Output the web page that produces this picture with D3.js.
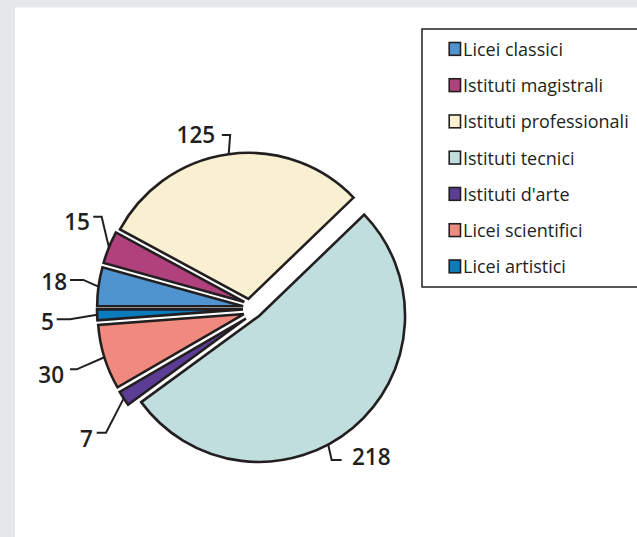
<!DOCTYPE html>
<html><head><meta charset="utf-8">
<script src="https://cdn.jsdelivr.net/npm/d3@7"></script>
<style>body{margin:0;background:#e6e7e8}svg{display:block}</style>
</head><body>
<svg id="chart" width="637" height="537"></svg>
<script>
// ---- data ----
const categories = ["Licei classici", "Istituti magistrali", "Istituti professionali", "Istituti tecnici", "Istituti d'arte", "Licei scientifici", "Licei artistici"];
const values = [18, 15, 125, 218, 7, 30, 5];
const valueLabels = ["18", "15", "125", "218", "7", "30", "5"];
const colors = ["#4f93cf", "#b0417c", "#f9f0d2", "#c0dedd", "#5c3d96", "#f08a7f", "#0a7bbd"];

// ---- layout ----
const W = 637, H = 537;
const ink = "#231f20";
const pieCenter = [261, 308.7];
const radius = 146;
const explodeDist = [18, 18, 16, 7.5, 18, 18, 18];
const explodeDirDeg = [null, null, 308, 195, null, null, null];
const anchorShift = [0, 0, 0, 11.8, 0, 0, 0];
const elbowShift = [1.6, 8.9, 1.4, 13.3, -6.05, -1.1, -1.1];
const elbowRadius = [162, 166.2, 164.9, 161.3, 180.6, 176, 173.3];
const tailLen = [13.3, 8.4, 8.3, 10, 9.3, 6.7, 13.3];
const textGap = [3, 3.3, 6.7, 10.3, 3.7, 6, 2.7];
const textDy = [10, 13.3, 8, 5, 14.3, 13.7, 10.7];

const svg = d3.select("#chart");
svg.append("rect").attr("width", W).attr("height", H).attr("fill", "#e6e7e8");
svg.append("rect").attr("x", 15).attr("y", 7.5).attr("width", W - 15).attr("height", H - 7.5).attr("fill", "#ffffff");

const pie = d3.pie().sort(null).value(d => d)
  .startAngle(-Math.PI / 2).endAngle(3 * Math.PI / 2);
const arcs = pie(values);
const arc = d3.arc().innerRadius(0).outerRadius(radius);
const rad = d => d * Math.PI / 180;

const slices = svg.append("g").attr("transform", `translate(${pieCenter[0]},${pieCenter[1]})`)
  .selectAll("g").data(arcs).join("g")
  .attr("transform", (d, i) => {
    const mid = (d.startAngle + d.endAngle) / 2;
    const dir = explodeDirDeg[i] == null ? mid : rad(explodeDirDeg[i]);
    return `translate(${explodeDist[i] * Math.sin(dir)},${-explodeDist[i] * Math.cos(dir)})`;
  });

slices.append("path")
  .attr("d", arc)
  .attr("fill", (d, i) => colors[i])
  .attr("stroke", ink).attr("stroke-width", 2.6).attr("stroke-linejoin", "miter");

slices.each(function(d, i) {
  const g = d3.select(this);
  const mid = (d.startAngle + d.endAngle) / 2;
  const a = mid + rad(anchorShift[i]);
  const e = mid + rad(elbowShift[i]);
  const ax = radius * Math.sin(a), ay = -radius * Math.cos(a);
  const ex = elbowRadius[i] * Math.sin(e), ey = -elbowRadius[i] * Math.cos(e);
  const side = Math.sin(e) < 0 ? -1 : 1;
  const tx = ex + side * tailLen[i];
  g.append("path")
    .attr("d", d3.line()([[ax, ay], [ex, ey], [tx, ey]]))
    .attr("fill", "none").attr("stroke", ink).attr("stroke-width", 2);
  g.append("text")
    .attr("x", tx + side * textGap[i]).attr("y", ey + textDy[i])
    .attr("text-anchor", side < 0 ? "end" : "start")
    .attr("font-family", "'Open Sans', sans-serif").attr("font-weight", 600)
    .attr("font-size", 22.5).attr("fill", ink)
    .text(valueLabels[i]);
});

// ---- legend ----
const legend = svg.append("g");
legend.append("rect").attr("x", 422).attr("y", 29).attr("width", 230).attr("height", 258)
  .attr("fill", "#fff").attr("stroke", ink).attr("stroke-width", 1.5);
const rows = legend.selectAll("g.row").data(categories).join("g")
  .attr("class", "row")
  .attr("transform", (d, i) => `translate(0,${48.8 + i * 36.25})`);
rows.append("rect").attr("x", 449.2).attr("y", -6.3).attr("width", 11.3).attr("height", 12.8)
  .attr("fill", (d, i) => colors[i]).attr("stroke", ink).attr("stroke-width", 1.6);
rows.append("text").attr("x", 463).attr("y", 7)
  .attr("font-family", "'Open Sans', sans-serif").attr("font-size", 18).attr("fill", ink)
  .text(d => d);
</script>
</body></html>
